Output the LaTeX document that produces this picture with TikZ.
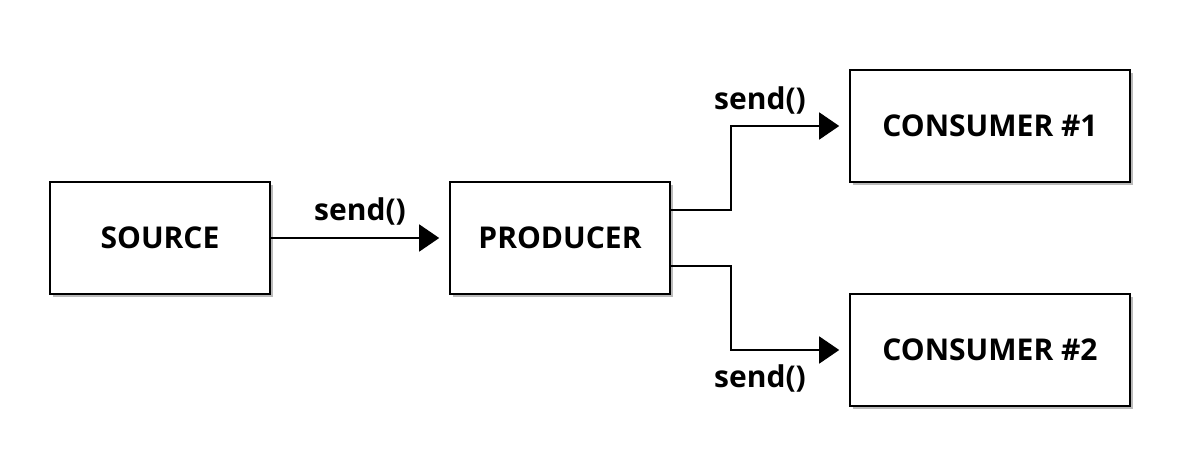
\documentclass[tikz,border=0pt]{standalone}
\usepackage{fontspec}
\setmainfont{Open Sans}
\usetikzlibrary{arrows.meta,shadows}
\begin{document}
\begin{tikzpicture}[x=1pt,y=-1pt,
  box/.style={draw=black,line width=1.6pt,fill=white,minimum width=220pt,minimum height=112pt,inner sep=0pt,
    font=\fontsize{30}{34}\selectfont\bfseries,
    drop shadow={shadow xshift=3pt,shadow yshift=-3pt,fill=black!45,opacity=0.6}},
  widebox/.style={box,minimum width=280pt},
  conn/.style={line width=1.6pt,-{Triangle[length=20pt,width=27pt]},shorten >=10pt},
  lbl/.style={font=\fontsize{30}{34}\selectfont\bfseries,inner sep=0pt}]
\useasboundingbox (0,0) rectangle (1180,476);
\node[box] (src) at (160,238) {SOURCE};
\node[box] (prod) at (560,238) {PRODUCER};
\node[widebox] (c1) at (990,126) {CONSUMER \#1};
\node[widebox] (c2) at (990,350) {CONSUMER \#2};
\draw[conn] (src) -- (prod);
\draw[conn] ([yshift=28pt]prod.east) -- ++(60,0) |- (c1.west);
\draw[conn] ([yshift=-28pt]prod.east) -- ++(60,0) |- (c2.west);
\node[lbl] (l1) at (360,211) {send()};
\node[lbl] (l2) at (760,100) {send()};
\node[lbl] (l3) at (760,378) {send()};
\end{tikzpicture}
\end{document}
